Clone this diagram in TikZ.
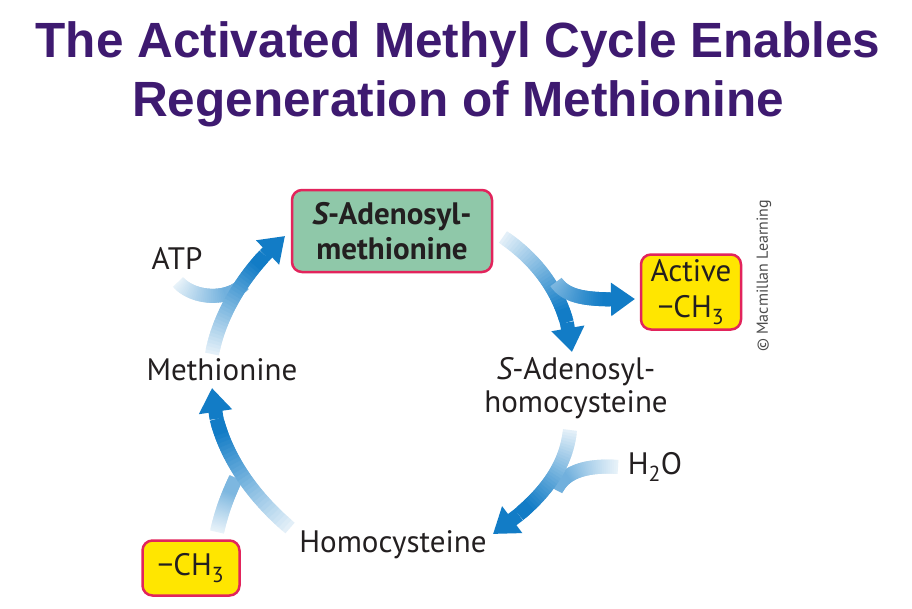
\documentclass[tikz,border=0pt]{standalone}
\usepackage{fontspec}
\setmainfont{PT Sans}
\newfontfamily\headfont{Liberation Sans}
\usepackage{xcolor}
\usetikzlibrary{arrows.meta}

\definecolor{headpurple}{HTML}{3E1A70}
\definecolor{cycblue}{HTML}{127CC6}
\definecolor{samgreen}{HTML}{8FC8A9}
\definecolor{boxred}{HTML}{E2245C}
\definecolor{methylyellow}{HTML}{FFE600}
\definecolor{inkgray}{HTML}{231F20}

% shaded band without head: from, control, control, to, first and last share of blue
\newcommand{\cycband}[6]{%
  \foreach \k in {0,...,40}
    \path #1 .. controls #2 and #3 .. #4 coordinate[pos=\k/40] (b\k);
  \foreach \k in {0,...,38}{%
    \pgfmathsetmacro\bshare{#5+(#6-#5)*min(1,\k/28)}%
    \pgfmathtruncatemacro\bnext{\k+2}%
    \draw[band, draw=cycblue!\bshare!white] (b\k) -- (b\bnext);}%
}
% same band, ending in a solid head
\newcommand{\cycarrow}[6]{%
  \foreach \k in {0,...,40}
    \path #1 .. controls #2 and #3 .. #4 coordinate[pos=\k/40] (b\k);
  \foreach \k in {0,...,30}{%
    \pgfmathsetmacro\bshare{#5+(#6-#5)*min(1,\k/28)}%
    \pgfmathtruncatemacro\bnext{\k+2}%
    \draw[band, draw=cycblue!\bshare!white] (b\k) -- (b\bnext);}%
  \draw[band, draw=cycblue, -{Triangle[length=24pt,width=32pt]}] (b32) -- (b40);
}

\begin{document}
\begin{tikzpicture}[x=1pt, y=-1pt,
  headline/.style={font=\headfont\fontsize{49.5}{59}\selectfont\bfseries, text=headpurple, align=center},
  metab/.style={font=\fontsize{31}{33}\selectfont, text=inkgray, align=center, inner sep=0pt},
  keybox/.style={draw=boxred, line width=2.5pt, rounded corners=10pt, align=center, text=inkgray, inner sep=0pt},
  band/.style={line width=14pt, line cap=butt},
  credit/.style={font=\fontsize{16}{18}\selectfont, text=black!70, rotate=90}
]
\useasboundingbox (0,0) rectangle (912,608);
\fill[white] (0,0) rectangle (912,608);

\node[headline] (title) at (458,74) {The Activated Methyl Cycle Enables\\Regeneration of Methionine};

% cycle members
\node[keybox, fill=samgreen, minimum width=200pt, minimum height=82pt,
  font=\fontsize{31}{35}\selectfont\bfseries] (sam) at (392,231) {{\itshape S}-Adenosyl-\\methionine};
\node[metab] (met) at (222,370) {Methionine};
\node[metab] (sah) at (576,388) {{\itshape S}-Adenosyl-\\homocysteine};
\node[metab] (hcy) at (393,545) {Homocysteine};

% side inputs and outputs
\node[metab] (atp) at (177,258) {ATP};
\node[metab] (water) at (655,467) {H\textsubscript{2}O};
\node[keybox, fill=methylyellow, minimum width=100pt, minimum height=75pt,
  font=\fontsize{31}{36}\selectfont] (active) at (691,292) {Active\\−CH\textsubscript{3}};
\node[keybox, fill=methylyellow, minimum width=97pt, minimum height=55pt,
  font=\fontsize{31}{33}\selectfont] (methyl) at (191,568) {−CH\textsubscript{3}};
\node[credit] (credit) at (764,276) {© Macmillan Learning};

\coordinate (met-out) at (212,354);
\coordinate (sam-in) at (285,236);
\coordinate (atp-out) at (178,282);
\coordinate (atp-join) at (244,284);
\coordinate (sam-out) at (503,237);
\coordinate (sah-in) at (572,352);
\coordinate (split) at (556,282);
\coordinate (active-in) at (635,299);
\coordinate (sah-out) at (570,430);
\coordinate (hcy-in) at (493,534);
\coordinate (water-out) at (618,467);
\coordinate (water-join) at (556,490);
\coordinate (hcy-out) at (290,528);
\coordinate (met-in) at (212,388);
\coordinate (methyl-out) at (217,532);
\coordinate (methyl-join) at (236,478);

\cycband{(atp-out)}{(192,298)}{(226,302)}{(atp-join)}{10}{60}
\cycarrow{(met-out)}{(220,310)}{(250,265)}{(sam-in)}{12}{100}
\cycarrow{(sam-out)}{(540,262)}{(568,300)}{(sah-in)}{12}{100}
\cycarrow{(split)}{(568,300)}{(595,300)}{(active-in)}{55}{100}
\cycband{(water-out)}{(590,465)}{(565,470)}{(water-join)}{10}{60}
\cycarrow{(sah-out)}{(566,470)}{(540,502)}{(hcy-in)}{12}{100}
\cycband{(methyl-out)}{(222,510)}{(228,495)}{(methyl-join)}{10}{55}
\cycarrow{(hcy-out)}{(245,490)}{(214,440)}{(met-in)}{12}{100}
\end{tikzpicture}
\end{document}
